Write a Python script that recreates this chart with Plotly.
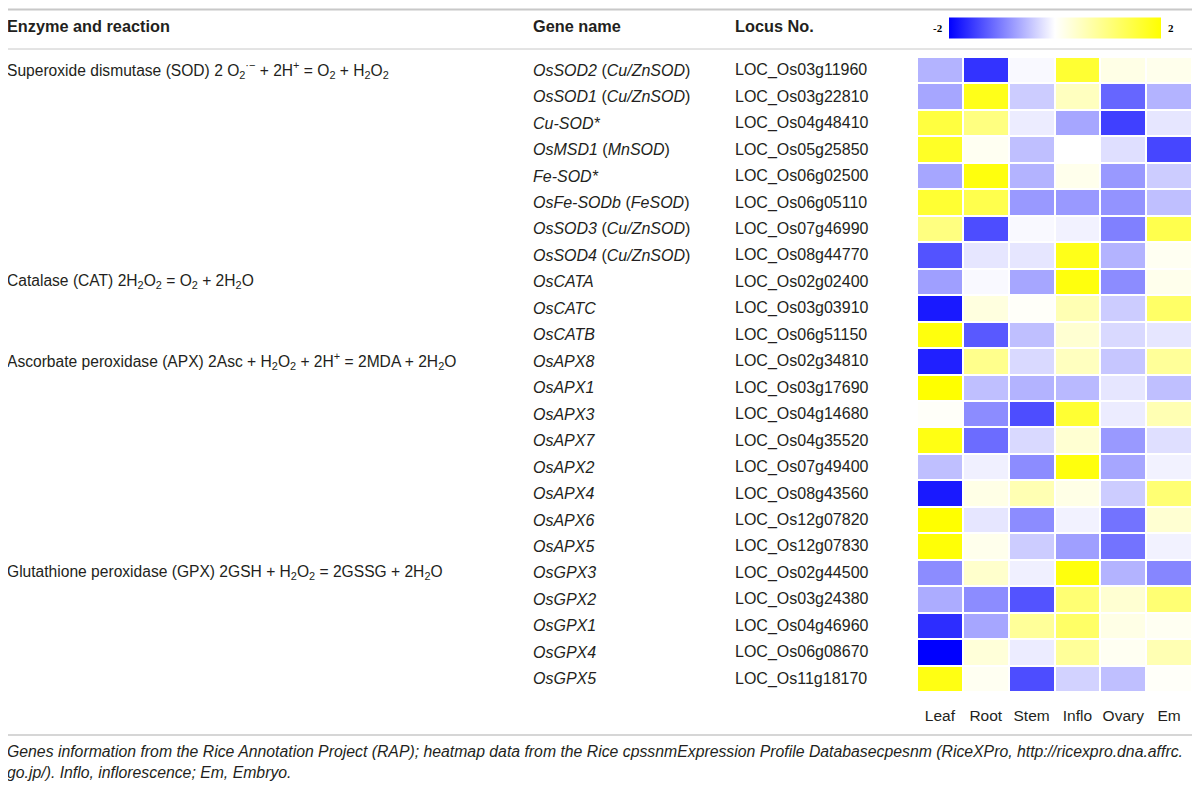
import plotly.graph_objects as go

# the page puts the figure 8px in from the top-left corner
OFF = 8
W, H = 1200 - OFF, 787 - OFF

# table content
enzymes = [
    "Superoxide dismutase (SOD) 2 O<sub>2</sub><sup>·−</sup> + 2H<sup>+</sup> = O<sub>2</sub> + H<sub>2</sub>O<sub>2</sub>",
    "Catalase (CAT) 2H<sub>2</sub>O<sub>2</sub> = O<sub>2</sub> + 2H<sub>2</sub>O",
    "Ascorbate peroxidase (APX) 2Asc + H<sub>2</sub>O<sub>2</sub> + 2H<sup>+</sup> = 2MDA + 2H<sub>2</sub>O",
    "Glutathione peroxidase (GPX) 2GSH + H<sub>2</sub>O<sub>2</sub> = 2GSSG + 2H<sub>2</sub>O",
]
enzyme_first_row = [0, 8, 11, 19]

genes = [
    "<i>OsSOD2</i> (<i>Cu/ZnSOD</i>)", "<i>OsSOD1</i> (<i>Cu/ZnSOD</i>)", "<i>Cu-SOD*</i>",
    "<i>OsMSD1</i> (<i>MnSOD</i>)", "<i>Fe-SOD*</i>", "<i>OsFe-SODb</i> (<i>FeSOD</i>)",
    "<i>OsSOD3</i> (<i>Cu/ZnSOD</i>)", "<i>OsSOD4</i> (<i>Cu/ZnSOD</i>)",
    "<i>OsCATA</i>", "<i>OsCATC</i>", "<i>OsCATB</i>",
    "<i>OsAPX8</i>", "<i>OsAPX1</i>", "<i>OsAPX3</i>", "<i>OsAPX7</i>", "<i>OsAPX2</i>",
    "<i>OsAPX4</i>", "<i>OsAPX6</i>", "<i>OsAPX5</i>",
    "<i>OsGPX3</i>", "<i>OsGPX2</i>", "<i>OsGPX1</i>", "<i>OsGPX4</i>", "<i>OsGPX5</i>",
]
loci = [
    "LOC_Os03g11960", "LOC_Os03g22810", "LOC_Os04g48410", "LOC_Os05g25850",
    "LOC_Os06g02500", "LOC_Os06g05110", "LOC_Os07g46990", "LOC_Os08g44770",
    "LOC_Os02g02400", "LOC_Os03g03910", "LOC_Os06g51150",
    "LOC_Os02g34810", "LOC_Os03g17690", "LOC_Os04g14680", "LOC_Os04g35520",
    "LOC_Os07g49400", "LOC_Os08g43560", "LOC_Os12g07820", "LOC_Os12g07830",
    "LOC_Os02g44500", "LOC_Os03g24380", "LOC_Os04g46960", "LOC_Os06g08670",
    "LOC_Os11g18170",
]
tissues = ["Leaf", "Root", "Stem", "Inflo", "Ovary", "Em"]

# heatmap values (estimated, scale -2..2)
leaf = [-0.6, -0.7, 1.5, 1.7, -0.7, 1.6, 1.0, -1.35, -0.75, -1.8, 1.9, -1.75,
        2.0, 0.05, 1.85, -0.5, -1.8, 2.0, 1.95, -0.9, -0.65, -1.65, -2.0, 1.85]
root = [-1.6, 1.8, 1.0, 0.1, 1.9, 1.4, -1.4, -0.2, -0.05, 0.25, -1.3, 0.9,
        -0.5, -0.9, -1.15, -0.12, 0.2, -0.2, 0.15, 0.4, -0.9, -0.7, 0.3, 0.1]
stem = [-0.05, -0.4, -0.15, -0.5, -0.6, -0.8, -0.05, -0.2, -0.7, 0.05, -0.5, -0.3,
        -0.6, -1.4, -0.3, -0.9, 0.6, -0.9, -0.4, -0.12, -1.35, 0.8, -0.15, -1.4]
inflo = [1.6, 0.5, -0.7, 0.0, 0.15, -0.8, -0.1, 1.8, 1.9, 0.6, 0.35, 0.5,
         -0.55, 1.6, 0.35, 1.9, 0.2, -0.1, -0.75, 1.9, 1.1, 1.2, 0.8, -0.35]
ovary = [0.2, -1.2, -1.5, -0.25, -0.8, -0.85, -1.0, -0.6, -0.9, -0.4, -0.3, -0.45,
         -0.2, -0.15, -0.8, -0.7, -0.4, -1.1, -1.1, -0.6, 0.35, 0.2, 0.1, -0.5]
em = [0.15, -0.6, -0.2, -1.45, -0.4, -0.5, 1.4, 0.1, 0.15, 1.2, -0.2, 0.8,
      -0.5, 0.6, -0.25, -0.1, 1.1, 0.35, -0.1, -0.95, 1.1, 0.1, 0.6, 0.05]

footnote = [
    "Genes information from the Rice Annotation Project (RAP); heatmap data from the Rice cpssnmExpression "
    "Profile Databasecpesnm (RiceXPro, http://ricexpro.dna.affrc.",
    "go.jp/). Inflo, inflorescence; Em, Embryo.",
]

TXT = "#231f20"
FONT = "Liberation Sans"


# page pixel -> paper coords
def px(x):
    return (x - OFF) / W


def py(y):
    return 1 - (y - OFF) / H


z = [list(r) for r in zip(leaf, root, stem, inflo, ovary, em)]

fig = go.Figure()
fig.add_trace(go.Heatmap(
    z=z, x=tissues, y=loci,
    zmin=-2, zmax=2,
    colorscale=[[0, "rgb(0,0,255)"], [0.5, "rgb(255,255,255)"], [1, "rgb(255,255,0)"]],
    xgap=2, ygap=2,
    colorbar=dict(orientation="h", x=px(1055), xanchor="center", y=py(27.5), yanchor="middle",
                  len=212 / W, lenmode="fraction", thickness=21, thicknessmode="pixels",
                  xpad=0, ypad=0, outlinewidth=0, showticklabels=False, ticks=""),
))

fig.update_layout(
    width=W, height=H, margin=dict(l=0, r=0, t=0, b=0),
    paper_bgcolor="white", plot_bgcolor="white",
    font=dict(family=FONT, color=TXT, size=16),
    xaxis=dict(domain=[px(917), px(1192)], showgrid=False, zeroline=False, ticks="",
               tickfont=dict(size=15.5, color=TXT), ticklabelstandoff=12),
    yaxis=dict(domain=[py(692), py(57)], autorange="reversed", showgrid=False,
               zeroline=False, showticklabels=False, ticks=""),
)

annots = []
# header
for txt, x in [("Enzyme and reaction", 5), ("Gene name", 531), ("Locus No.", 733)]:
    annots.append(dict(text=f"<b>{txt}</b>", x=px(x), y=py(26), xref="paper", yref="paper",
                       xanchor="left", yanchor="middle", showarrow=False,
                       font=dict(size=16.3, color=TXT)))
# colorbar end labels
for txt, x in [("-2", 938), ("2", 1171)]:
    annots.append(dict(text=f"<b>{txt}</b>", x=px(x), y=py(27.5), xref="paper", yref="paper",
                       xanchor="center", yanchor="middle", showarrow=False,
                       font=dict(family="Liberation Serif", size=11, color="#000")))
# enzyme groups
for txt, r in zip(enzymes, enzyme_first_row):
    annots.append(dict(text=txt, x=px(5), y=loci[r], xref="paper", yref="y",
                       xanchor="left", yanchor="middle", showarrow=False,
                       font=dict(size=15.6, color=TXT)))
# gene names and loci
for g, l in zip(genes, loci):
    annots.append(dict(text=g, x=px(531), y=l, xref="paper", yref="y",
                       xanchor="left", yanchor="middle", showarrow=False))
    annots.append(dict(text=l, x=px(733), y=l, xref="paper", yref="y",
                       xanchor="left", yanchor="middle", showarrow=False))
# footnote
for txt, y in zip(footnote, [751, 772]):
    annots.append(dict(text=f"<i>{txt}</i>", x=px(5), y=py(y), xref="paper", yref="paper",
                       xanchor="left", yanchor="middle", showarrow=False,
                       font=dict(size=15.8, color=TXT)))
fig.update_layout(annotations=annots)

# table rules
for y, w in [(9.5, 2), (49, 1), (735, 1.5)]:
    fig.add_shape(type="line", xref="paper", yref="paper", x0=0, x1=px(1193),
                  y0=py(y), y1=py(y), line=dict(color="#c8c8c8", width=w))

fig.write_html("out.html")
